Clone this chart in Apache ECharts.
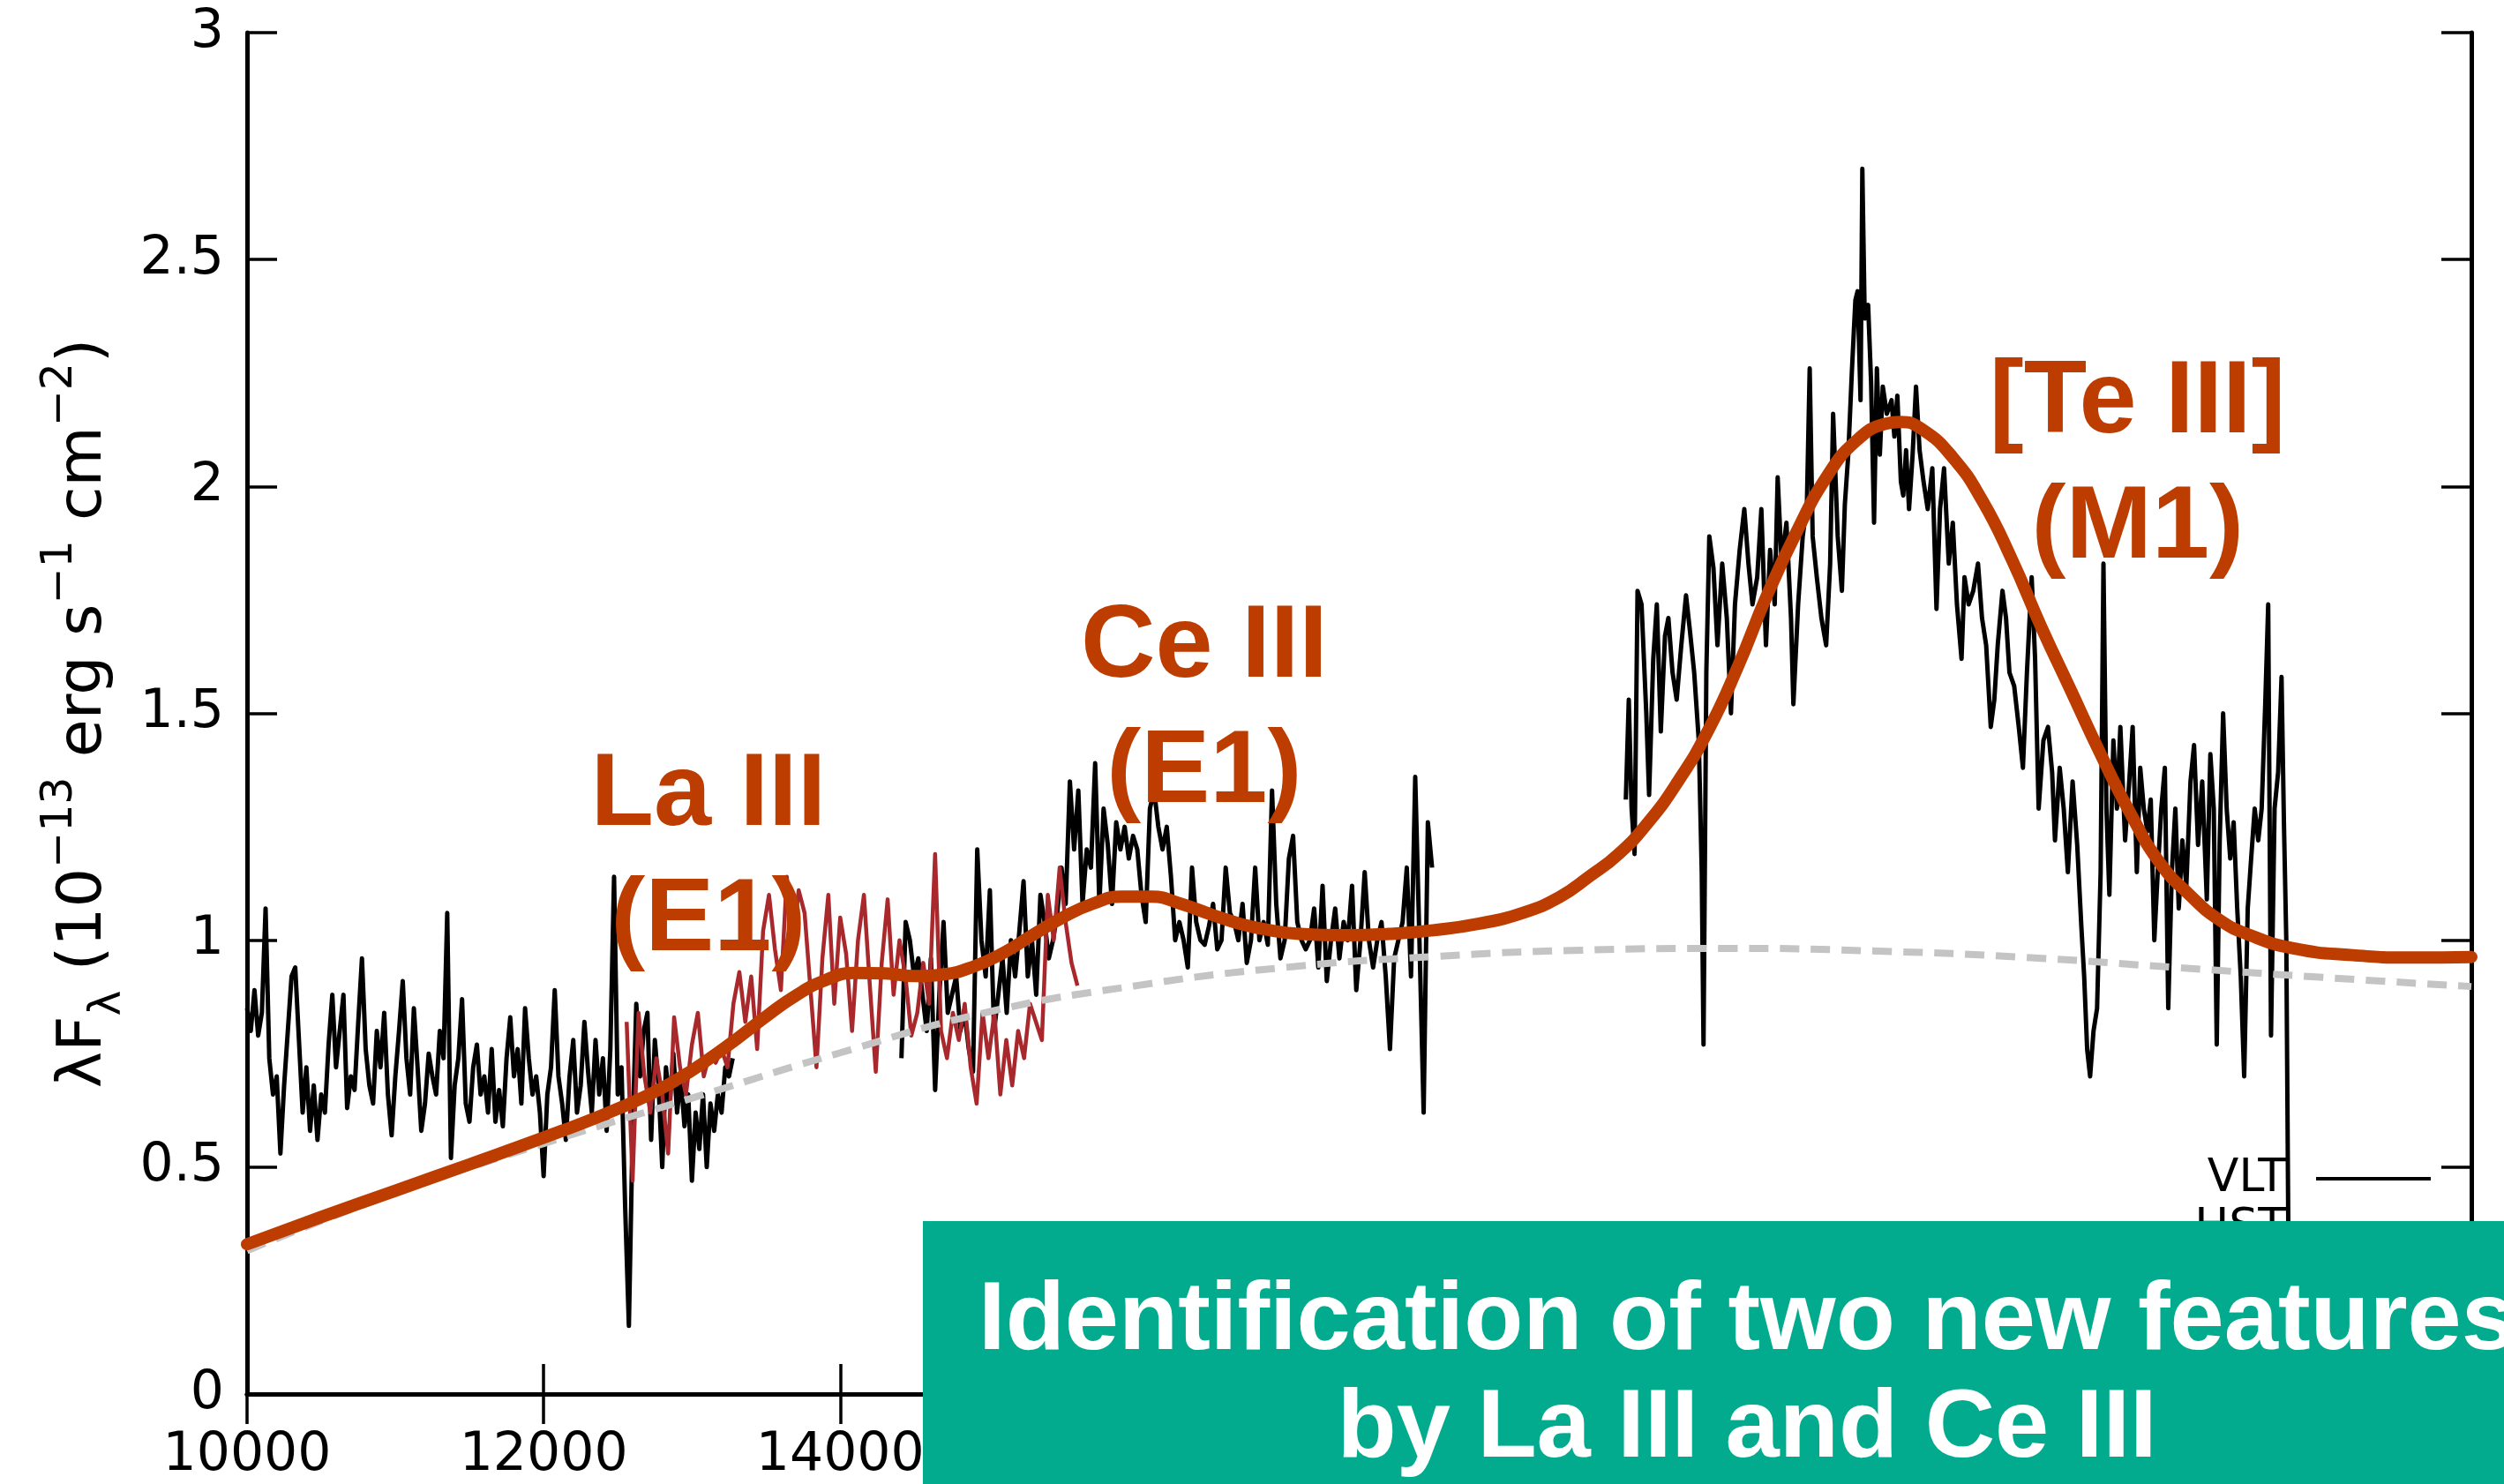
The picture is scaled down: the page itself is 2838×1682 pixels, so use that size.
<!DOCTYPE html>
<html>
<head>
<meta charset="utf-8">
<script src="https://cdn.jsdelivr.net/npm/echarts@6/dist/echarts.min.js"></script>
<style>
  html, body { margin: 0; padding: 0; background: #fff; }
  #chart { width: 2838px; height: 1682px; }
</style>
</head>
<body>
<div id="chart"></div>
<script>
// ---- Spectrum data: wavelength in Angstrom, lambda*F_lambda in 1e-13 erg/s/cm^2 ----

// VLT segment 1 (J band), uniform sampling grid
const vlt1Start = 10000, vlt1Step = 25;
const vlt1Flux = [
  0.85,0.80,0.89,0.79,0.84,1.07,0.74,0.66,0.70,0.53,0.68,0.80,0.92,0.94,0.78,0.62,
  0.72,0.58,0.68,0.56,0.66,0.62,0.77,0.88,0.72,0.80,0.88,0.63,0.70,0.67,0.82,0.96,
  0.76,0.68,0.64,0.80,0.72,0.84,0.66,0.57,0.70,0.80,0.91,0.74,0.66,0.85,0.72,0.58,
  0.64,0.75,0.70,0.66,0.80,0.74,1.06,0.52,0.68,0.74,0.87,0.64,0.60,0.72,0.77,0.66,
  0.70,0.62,0.76,0.60,0.67,0.59,0.74,0.83,0.70,0.76,0.64,0.85,0.74,0.66,0.70,0.62,
  0.48,0.66,0.72,0.89,0.70,0.64,0.56,0.70,0.78,0.62,0.68,0.82,0.71,0.62,0.78,0.66,
  0.74,0.58,0.76,1.14,0.66,0.72,0.41,0.15,0.58,0.86,0.70,0.80,0.84,0.56,0.78,0.68,
  0.50,0.72,0.64,0.75,0.62,0.70,0.59,0.66,0.47,0.62,0.54,0.66,0.50,0.64,0.58,0.66,
  0.62,0.72,0.70,0.74
];

// VLT segment 2 (H band), uniform sampling grid
const vlt2Start = 14413, vlt2Step = 28.4;
const vlt2Flux = [
  0.74,1.04,1.00,0.92,0.96,0.88,0.80,0.96,0.67,0.88,1.04,0.84,0.88,0.92,0.80,0.84,
  0.76,0.71,1.20,1.00,0.92,1.11,0.80,0.88,0.96,0.84,1.00,0.92,1.02,1.13,0.92,1.00,
  0.88,1.10,1.04,0.96,1.00,1.06,1.16,1.08,1.35,1.20,1.33,1.08,1.20,1.16,1.39,1.08,
  1.29,1.21,1.08,1.26,1.20,1.25,1.18,1.23,1.20,1.10,1.04,1.29,1.33,1.25,1.20,1.25,
  1.14,1.00,1.04,1.00,0.94,1.16,1.04,1.00,0.99,1.03,1.08,0.98,1.00,1.16,1.06,1.04,
  1.00,1.08,0.95,1.00,1.16,1.00,1.04,0.99,1.33,1.08,0.96,1.00,1.18,1.23,1.04,1.00,
  0.98,1.00,1.07,0.94,1.12,0.91,1.00,1.07,0.96,1.04,1.00,1.12,0.89,1.00,1.15,1.00,
  0.94,1.00,1.04,0.92,0.76,0.96,1.00,1.04,1.16,0.92,1.36,1.00,0.62,1.26,1.16
];

// VLT segment 3 (K band)
const vlt3 = [
  [19298,1.31],[19318,1.53],[19337,1.29],[19357,1.19],[19377,1.77],[19404,1.74],[19436,1.50],[19455,1.32],
  [19483,1.62],[19507,1.74],[19534,1.46],[19562,1.67],[19585,1.71],[19613,1.59],[19641,1.53],[19672,1.65],
  [19704,1.76],[19731,1.68],[19759,1.59],[19790,1.44],[19810,1.15],[19822,0.77],[19841,1.59],[19861,1.89],
  [19889,1.82],[19916,1.65],[19948,1.83],[19979,1.71],[20007,1.50],[20034,1.74],[20066,1.86],[20097,1.95],
  [20125,1.83],[20152,1.74],[20184,1.80],[20212,1.95],[20243,1.65],[20271,1.86],[20302,1.74],[20322,2.02],
  [20349,1.83],[20381,1.92],[20412,1.71],[20428,1.52],[20460,1.74],[20491,1.89],[20519,1.96],[20538,2.26],
  [20558,1.89],[20586,1.80],[20617,1.71],[20649,1.65],[20676,1.83],[20696,2.16],[20727,1.89],[20755,1.77],
  [20775,1.96],[20798,2.07],[20822,2.25],[20846,2.41],[20861,2.43],[20881,2.19],[20893,2.70],[20909,2.37],
  [20932,2.40],[20952,2.23],[20972,1.92],[20991,2.26],[21011,2.07],[21031,2.22],[21058,2.16],[21090,2.19],
  [21109,2.11],[21129,2.20],[21153,2.01],[21169,1.98],[21188,2.08],[21208,1.95],[21232,2.07],[21255,2.22],
  [21279,2.08],[21306,2.01],[21334,1.95],[21365,2.04],[21393,1.73],[21417,1.95],[21444,2.04],[21476,1.83],
  [21503,1.92],[21531,1.74],[21562,1.62],[21582,1.80],[21610,1.74],[21641,1.77],[21673,1.83],[21700,1.71],
  [21728,1.65],[21759,1.47],[21783,1.53],[21806,1.65],[21838,1.77],[21862,1.71],[21885,1.59],[21917,1.56],
  [21948,1.47],[21976,1.38],[22003,1.59],[22035,1.80],[22058,1.62],[22082,1.29],[22114,1.44],[22145,1.47],
  [22173,1.37],[22192,1.22],[22224,1.38],[22251,1.29],[22279,1.15],[22311,1.35],[22342,1.21],[22370,1.03],
  [22389,0.92],[22409,0.76],[22429,0.70],[22452,0.80],[22476,0.85],[22500,1.15],[22519,1.83],[22539,1.29],
  [22559,1.10],[22586,1.44],[22610,1.29],[22633,1.47],[22665,1.22],[22693,1.35],[22716,1.47],[22744,1.15],
  [22767,1.38],[22791,1.29],[22815,1.24],[22838,1.31],[22862,1.00],[22885,1.15],[22909,1.29],[22933,1.38],
  [22956,0.85],[22980,1.15],[23004,1.29],[23027,1.07],[23051,1.22],[23078,1.12],[23106,1.35],[23130,1.43],
  [23157,1.21],[23185,1.35],[23216,1.09],[23240,1.41],[23263,1.29],[23283,0.77],[23303,1.22],[23326,1.50],
  [23350,1.29],[23374,1.18],[23397,1.26],[23421,1.07],[23445,0.92],[23468,0.70],[23492,1.07],[23515,1.18],
  [23539,1.29],[23563,1.22],[23586,1.29],[23610,1.52],[23630,1.74],[23649,0.79],[23673,1.29],[23697,1.37],
  [23720,1.58],[23736,1.26],[23752,1.00],[23768,0.25],[23775,0.02]
];

// HST spectrum, uniform sampling grid
const hstStart = 12560, hstStep = 40;
const hstFlux = [
  0.82,0.47,0.84,0.70,0.62,0.74,0.66,0.53,0.83,0.72,0.66,0.77,0.84,0.70,0.75,0.73,
  0.76,0.72,0.86,0.93,0.82,0.92,0.76,1.02,1.10,0.98,0.89,1.14,0.99,1.11,1.06,0.89,
  0.72,0.96,1.10,0.86,1.05,0.97,0.80,1.00,1.10,0.90,0.71,0.95,1.09,0.88,1.00,0.92,
  0.79,0.84,0.95,0.86,1.19,0.80,0.74,0.84,0.78,0.86,0.72,0.64,0.84,0.74,0.84,0.66,
  0.78,0.68,0.80,0.74,0.86,0.82,0.78,1.10,1.00,1.16,1.04,0.95,0.90
];

// Kilonova model (continuum + line features)
const modelCurve = [
  [10000,0.330],[10500,0.390],[11000,0.448],[11500,0.506],[12000,0.565],[12400,0.615],[12700,0.658],
  [12900,0.693],[13100,0.735],[13300,0.782],[13500,0.832],[13700,0.878],[13900,0.912],[14100,0.928],
  [14300,0.927],[14500,0.921],[14700,0.925],[14900,0.942],[15100,0.972],[15300,1.012],[15500,1.050],
  [15700,1.080],[15900,1.096],[16100,1.096],[16300,1.080],[16500,1.057],[16700,1.036],[16900,1.022],
  [17100,1.014],[17400,1.011],[17700,1.014],[18000,1.022],[18300,1.036],[18600,1.060],[18850,1.095],
  [19050,1.140],[19250,1.190],[19450,1.260],[19650,1.350],[19850,1.460],[20050,1.600],[20250,1.760],
  [20450,1.900],[20650,2.020],[20850,2.100],[21050,2.138],[21150,2.142],[21300,2.125],[21500,2.065],
  [21700,1.970],[21900,1.840],[22100,1.690],[22300,1.550],[22500,1.410],[22700,1.280],[22900,1.170],
  [23100,1.100],[23300,1.045],[23500,1.012],[23800,0.982],[24200,0.967],[24600,0.962],[25000,0.963]
];

// Blackbody-like continuum
const continuum = [
  [10000,0.316],[11000,0.443],[12000,0.552],[13000,0.652],[14000,0.752],[15000,0.842],[16000,0.900],
  [17000,0.940],[18000,0.964],[19000,0.978],[20000,0.982],[21000,0.976],[22000,0.962],[23000,0.940],
  [24000,0.918],[25000,0.898]
];

// Line identifications (label centre in data coordinates)
const lineLabels = [
  { name: 'La III\n(E1)', value: [13111, 1.179] },
  { name: 'Ce III\n(E1)', value: [16455, 1.506] },
  { name: '[Te III]\n(M1)', value: [22749, 2.043] }
];

const bannerLines = ['Identification of two new features', 'by La III and Ce III'];

// ---- helpers ----
const onGrid = (start, step, vals) => vals.map((v, i) => [start + i * step, v]);

const AXIS_FONT = 'DejaVu Sans';
const BOLD_FONT = 'Liberation Sans';
const ORANGE = '#bd3c00';
const BLACK = '#000';
const HST_RED = '#a8282c';
const axisLine = { show: true, lineStyle: { color: '#000', width: 5 } };
const axisTick = { show: true, inside: true, length: 34, lineStyle: { color: '#000', width: 3.5 } };

const vltLine = (data) => ({
  name: 'VLT', type: 'line', data, showSymbol: false, symbol: 'none',
  lineStyle: { color: BLACK, width: 5, join: 'round' }, itemStyle: { color: BLACK },
  z: 2, silent: true
});

const chart = echarts.init(document.getElementById('chart'), null, { renderer: 'canvas' });

chart.setOption({
  animation: false,
  backgroundColor: '#fff',
  grid: { left: 280, right: 37, top: 37, bottom: 102, containLabel: false, outerBoundsMode: 'none' },
  legend: {
    data: [
      { name: 'VLT', icon: 'rect', itemStyle: { color: BLACK } },
      { name: 'HST', icon: 'rect', itemStyle: { color: HST_RED } }
    ],
    orient: 'vertical',
    right: 83, top: 1310,
    padding: 0,
    itemWidth: 130, itemHeight: 4, itemGap: 4,
    align: 'right',
    textStyle: { fontFamily: AXIS_FONT, fontSize: 52, color: '#000', padding: [0, 29, 0, 0] }
  },
  xAxis: [
    {
      type: 'value', min: 10000, max: 25000, interval: 2000, position: 'bottom',
      axisLine, axisTick, splitLine: { show: false },
      axisLabel: { fontFamily: AXIS_FONT, fontSize: 60, color: '#000', margin: 40, formatter: (v) => String(v) }
    },
    {
      type: 'value', min: 10000, max: 25000, interval: 2000, position: 'top',
      axisLine, axisTick, splitLine: { show: false }, axisLabel: { show: false }
    }
  ],
  yAxis: [
    {
      type: 'value', min: 0, max: 3, interval: 0.5, position: 'left',
      axisLine, axisTick, splitLine: { show: false },
      axisLabel: { fontFamily: AXIS_FONT, fontSize: 60, color: '#000', margin: 26 },
      name: '{a|λF}{s|λ}{a| (10}{p|−13}{a| erg s}{p|−1}{a| cm}{p|−2}{a|)}',
      nameLocation: 'middle', nameRotate: 90, nameGap: 112,
      nameTextStyle: {
        fontFamily: AXIS_FONT, color: '#000',
        rich: {
          a: { fontFamily: AXIS_FONT, fontSize: 70, color: '#000', lineHeight: 104, verticalAlign: 'middle' },
          s: { fontFamily: AXIS_FONT, fontSize: 49, color: '#000', lineHeight: 48, verticalAlign: 'bottom' },
          p: { fontFamily: AXIS_FONT, fontSize: 49, color: '#000', lineHeight: 48, verticalAlign: 'top' }
        }
      }
    },
    {
      type: 'value', min: 0, max: 3, interval: 0.5, position: 'right',
      axisLine, axisTick, splitLine: { show: false }, axisLabel: { show: false }
    }
  ],
  series: [
    vltLine(onGrid(vlt1Start, vlt1Step, vlt1Flux)),
    vltLine(onGrid(vlt2Start, vlt2Step, vlt2Flux)),
    vltLine(vlt3),
    {
      name: 'HST', type: 'line', data: onGrid(hstStart, hstStep, hstFlux),
      showSymbol: false, symbol: 'none',
      lineStyle: { color: HST_RED, width: 4.5, join: 'round' }, itemStyle: { color: HST_RED },
      z: 3, silent: true
    },
    {
      name: 'continuum', type: 'line', data: continuum, smooth: true,
      showSymbol: false, symbol: 'none',
      lineStyle: { color: '#c4c4c4', width: 8, type: [22, 13] },
      z: 4, silent: true
    },
    {
      name: 'model', type: 'line', data: modelCurve, smooth: true,
      showSymbol: false, symbol: 'none',
      lineStyle: { color: ORANGE, width: 14, cap: 'round', join: 'round' },
      z: 5, silent: true
    },
    {
      name: 'lines', type: 'scatter', data: lineLabels,
      symbolSize: 1, itemStyle: { color: 'rgba(0,0,0,0)', opacity: 1 }, z: 6, silent: true,
      label: {
        show: true, position: 'inside', formatter: (p) => p.name, opacity: 1,
        fontFamily: BOLD_FONT, fontWeight: 'bold', fontSize: 117,
        lineHeight: 142, color: ORANGE, align: 'center',
        textBorderWidth: 0
      }
    }
  ],
  graphic: [
    {
      type: 'rect', z: 100,
      shape: { x: 1046, y: 1384, width: 1800, height: 300 },
      style: { fill: '#03ab8e' }
    },
    {
      type: 'text', z: 101, x: 1980, y: 1499,
      style: {
        text: bannerLines[0], fill: '#fff', font: 'bold 110px "Liberation Sans"',
        textAlign: 'center', textVerticalAlign: 'middle'
      }
    },
    {
      type: 'text', z: 101, x: 1980, y: 1621,
      style: {
        text: bannerLines[1], fill: '#fff', font: 'bold 110px "Liberation Sans"',
        textAlign: 'center', textVerticalAlign: 'middle'
      }
    }
  ]
});
</script>
</body>
</html>
